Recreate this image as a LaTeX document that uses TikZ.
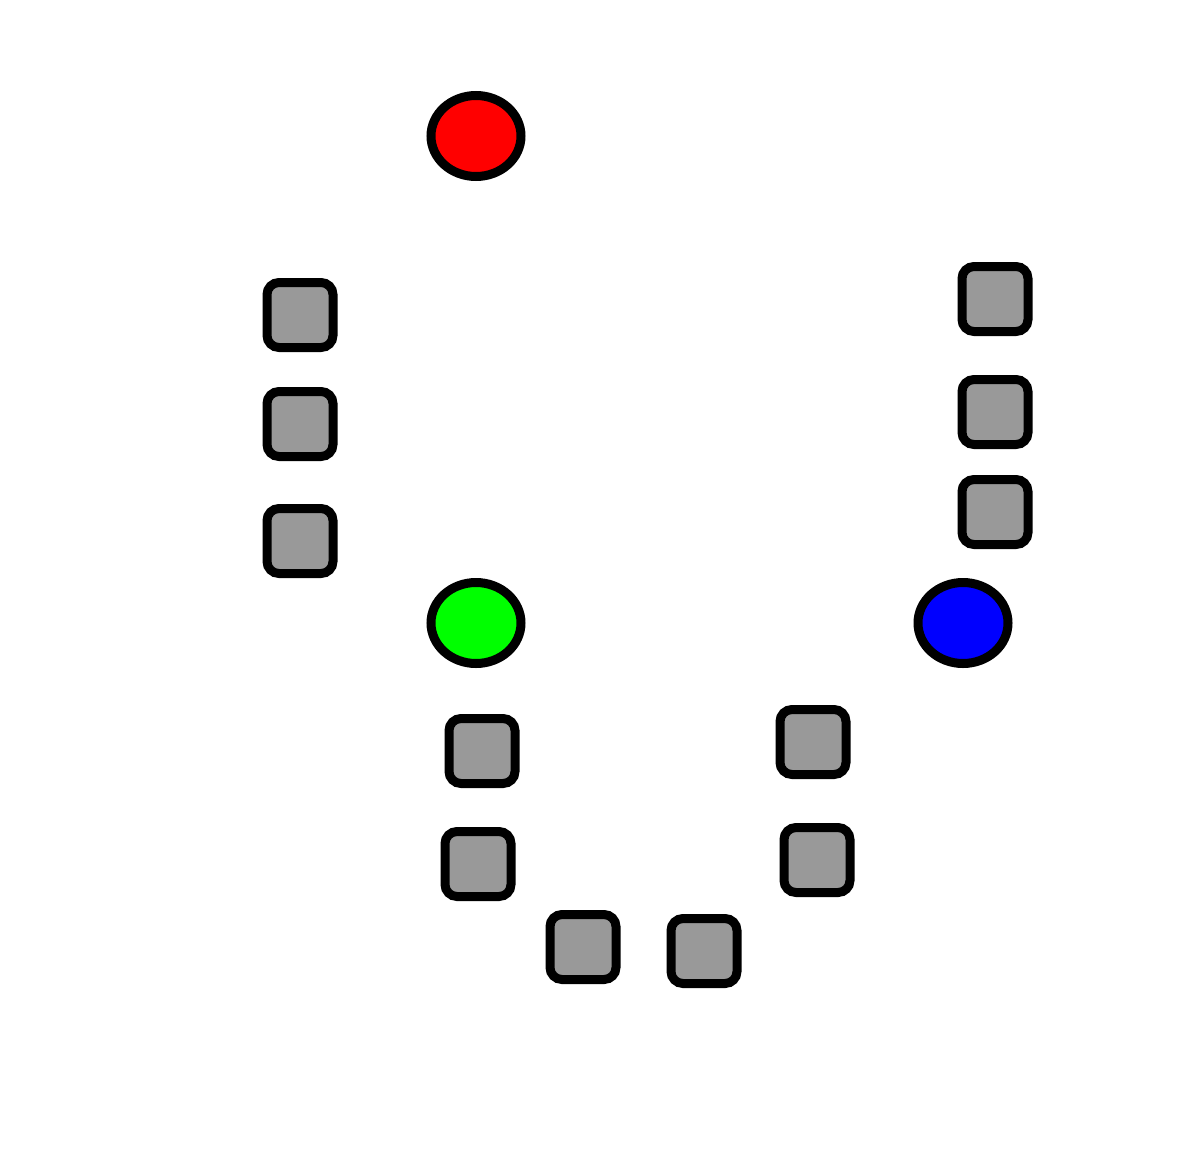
\documentclass[tikz,border=0pt]{standalone}
\usetikzlibrary{shapes.geometric}
\definecolor{boxgray}{RGB}{153,153,153}
\tikzset{
  px/.style={x=0.5pt,y=-0.5pt},
  blob/.style={ellipse,draw=black,line width=4.5pt,minimum width=45pt,minimum height=40.5pt,inner sep=0pt,outer sep=0pt},
  gbox/.style={rectangle,draw=black,fill=boxgray,line width=4.5pt,rounded corners=6pt,minimum width=33pt,minimum height=32.5pt,inner sep=0pt,outer sep=0pt}
}
\begin{document}
\begin{tikzpicture}[px]
\useasboundingbox (0,0) rectangle (1200,1157);
\fill[white] (0,0) rectangle (1200,1157);
\node[blob,fill=red] (red) at (476,136) {};
\node[blob,fill=green] (green) at (476,623) {};
\node[blob,fill=blue] (blue) at (963,623) {};
\node[gbox] (l1) at (300,315) {};
\node[gbox] (l2) at (300,424) {};
\node[gbox] (l3) at (300,541) {};
\node[gbox] (r1) at (995,299) {};
\node[gbox] (r2) at (995,412) {};
\node[gbox] (r3) at (995,512) {};
\node[gbox] (b1) at (482,751) {};
\node[gbox] (b2) at (478,864) {};
\node[gbox] (b3) at (583,947) {};
\node[gbox] (b4) at (704,951) {};
\node[gbox] (b5) at (813,742) {};
\node[gbox] (b6) at (817,860) {};
\end{tikzpicture}
\end{document}
